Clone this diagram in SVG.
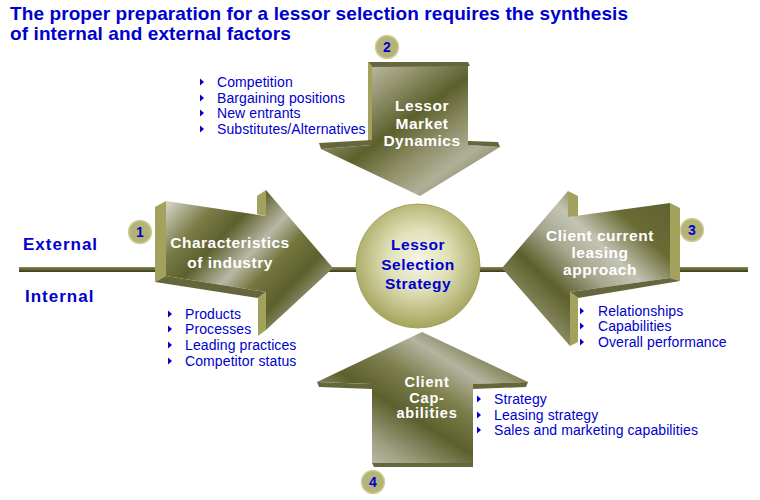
<svg xmlns="http://www.w3.org/2000/svg" xmlns:xlink="http://www.w3.org/1999/xlink" width="760" height="500" viewBox="0 0 760 500">
<defs>
<style>
.title{font-family:"Liberation Sans",Arial,sans-serif;font-weight:bold;font-size:19px;fill:#0000cc;letter-spacing:0.1px}
.side{font-family:"Liberation Sans",Arial,sans-serif;font-weight:bold;font-size:17px;fill:#0000cc;letter-spacing:1px}
.al{font-family:"Liberation Sans",Arial,sans-serif;font-weight:bold;font-size:15.5px;fill:#ffffff;text-anchor:middle;letter-spacing:0.5px}
.al2{font-family:"Liberation Sans",Arial,sans-serif;font-weight:bold;font-size:14.5px;fill:#ffffff;text-anchor:middle;letter-spacing:0.8px}
.ctr{font-family:"Liberation Sans",Arial,sans-serif;font-weight:bold;font-size:15.5px;fill:#0000cc;text-anchor:middle;letter-spacing:0.5px}
.bl{font-family:"Liberation Sans",Arial,sans-serif;font-size:14px;fill:#0000cc;letter-spacing:0.1px}
.num{font-family:"Liberation Sans",Arial,sans-serif;font-weight:bold;font-size:14px;fill:#0000cc;text-anchor:middle}
.nc{fill:#b4b478;stroke:#cfcf9c;stroke-width:1.5}
.lt{fill:#a2a25c}
.dk{fill:#66663c}
</style>
<linearGradient id="g1" x1="0" y1="0.1" x2="1" y2="0.9">
<stop offset="0" stop-color="#d4d4c6"/>
<stop offset="0.18" stop-color="#7c7e4a"/>
<stop offset="0.32" stop-color="#5c602c"/>
<stop offset="0.48" stop-color="#b8b8a6"/>
<stop offset="0.6" stop-color="#74763e"/>
<stop offset="0.74" stop-color="#5c602c"/>
<stop offset="0.9" stop-color="#a6a68c"/>
<stop offset="1" stop-color="#6c6e3a"/>
</linearGradient>
<linearGradient id="g2" x1="0" y1="0" x2="1" y2="1">
<stop offset="0" stop-color="#dcdcd0"/>
<stop offset="0.25" stop-color="#9a9a78"/>
<stop offset="0.45" stop-color="#5c602c"/>
<stop offset="0.6" stop-color="#8c8c64"/>
<stop offset="0.75" stop-color="#b0b098"/>
<stop offset="1" stop-color="#5c602c"/>
</linearGradient>
<linearGradient id="g3" x1="0" y1="1" x2="1" y2="0">
<stop offset="0" stop-color="#d8d8ca"/>
<stop offset="0.2" stop-color="#8a8a62"/>
<stop offset="0.35" stop-color="#5c602c"/>
<stop offset="0.5" stop-color="#a8a890"/>
<stop offset="0.62" stop-color="#c4c4b4"/>
<stop offset="0.78" stop-color="#6a6c36"/>
<stop offset="1" stop-color="#5c602c"/>
</linearGradient>
<linearGradient id="g4" x1="0" y1="1" x2="1" y2="0">
<stop offset="0" stop-color="#dadacc"/>
<stop offset="0.22" stop-color="#a0a084"/>
<stop offset="0.4" stop-color="#5c602c"/>
<stop offset="0.55" stop-color="#7c7e4c"/>
<stop offset="0.7" stop-color="#b4b4a0"/>
<stop offset="0.85" stop-color="#6e703a"/>
<stop offset="1" stop-color="#8a8a64"/>
</linearGradient>
<radialGradient id="gc" cx="0.5" cy="0.45" r="0.55">
<stop offset="0" stop-color="#f6f6e6"/>
<stop offset="0.45" stop-color="#e0e0b8"/>
<stop offset="1" stop-color="#a4a45c"/>
</radialGradient>
<linearGradient id="gl" x1="0" y1="0" x2="0" y2="1">
<stop offset="0" stop-color="#8a8a50"/>
<stop offset="1" stop-color="#3a3a1a"/>
</linearGradient>
<path id="tri" d="M0,-3.5 L4,0 L0,3.5 Z" fill="#0000cc"/>
</defs>
<rect width="760" height="500" fill="#ffffff"/>

<g id="title">
<text class="title" x="10" y="20">The proper preparation for a lessor selection requires the synthesis</text>
<text class="title" x="10" y="40">of internal and external factors</text>
</g>

<g id="connectors">
<rect x="19" y="267" width="729" height="5" fill="url(#gl)"/>
</g>

<g id="side-labels">
<text class="side" x="23" y="250">External</text>
<text class="side" x="25" y="302">Internal</text>
</g>

<g id="arrow-industry">
<polygon points="166,201 266,216 266,190 333,268 266,330 266,292 166,276" fill="url(#g1)"/>
<polygon class="lt" points="155,207 166,201 166,276 155,282"/>
<polygon class="lt" points="257,196 266,190 266,216 257,214"/>
<polygon class="dk" points="155,282 166,276 266,292 258,298"/>
<polygon class="lt" points="258,298 266,292 266,330 258,336"/>
<text class="al" x="230" y="248">Characteristics</text>
<text class="al" x="230" y="268">of industry</text>
</g>

<g id="arrow-market">
<polygon points="372,66 468,66 468,145 500,147 420,196 321,149 372,145" fill="url(#g2)"/>
<polygon class="dk" points="368,62 468,62 470,66 372,67"/>
<polygon class="lt" points="368,62 372,66 372,141 368,141"/>
<polygon class="dk" points="319,143 372,140 372,145 321,149"/>
<polygon class="dk" points="468,141 498,142 500,147 468,145"/>
<text class="al" x="422" y="111">Lessor</text>
<text class="al" x="422" y="129">Market</text>
<text class="al" x="422" y="146">Dynamics</text>
</g>

<g id="arrow-client-approach">
<polygon points="502,268 568,191 568,217 670,203 670,278 570,292 570,346" fill="url(#g3)"/>
<polygon class="lt" points="568,191 578,196 578,216 568,217"/>
<polygon class="lt" points="670,203 680,208 680,281 670,278"/>
<polygon class="dk" points="570,292 670,278 680,281 578,298"/>
<polygon class="lt" points="570,292 578,298 578,342 570,346"/>
<text class="al" x="600" y="241">Client current</text>
<text class="al" x="600" y="258">leasing</text>
<text class="al" x="600" y="275">approach</text>
</g>

<g id="arrow-capabilities">
<polygon points="422,332 528,382 473,384 473,463 372,463 372,384 317,382" fill="url(#g4)"/>
<polygon class="dk" points="317,382 372,384 372,389 319,387"/>
<polygon class="dk" points="473,384 528,382 526,387 473,389"/>
<polygon class="dk" points="372,463 473,463 473,467 374,467"/>
<text class="al2" x="427" y="387">Client</text>
<text class="al2" x="427" y="402.5">Cap-</text>
<text class="al2" x="427" y="418">abilities</text>
</g>

<g id="center-strategy">
<circle cx="418" cy="266" r="62" fill="url(#gc)" stroke="#a4a45a" stroke-width="1"/>
<text class="ctr" x="418" y="250">Lessor</text>
<text class="ctr" x="418" y="270">Selection</text>
<text class="ctr" x="418" y="289">Strategy</text>
</g>

<g id="num-1"><circle class="nc" cx="140" cy="232" r="11.5"/><text class="num" x="140" y="237">1</text></g>
<g id="num-2"><circle class="nc" cx="387" cy="47" r="11.5"/><text class="num" x="387" y="52">2</text></g>
<g id="num-3"><circle class="nc" cx="692" cy="230" r="11.5"/><text class="num" x="692" y="235">3</text></g>
<g id="num-4"><circle class="nc" cx="373" cy="482" r="11.5"/><text class="num" x="373" y="487">4</text></g>

<g id="list-market">
<use xlink:href="#tri" x="200" y="82"/><text class="bl" x="217" y="87">Competition</text>
<use xlink:href="#tri" x="200" y="98"/><text class="bl" x="217" y="103">Bargaining positions</text>
<use xlink:href="#tri" x="200" y="113"/><text class="bl" x="217" y="118">New entrants</text>
<use xlink:href="#tri" x="200" y="129"/><text class="bl" x="217" y="134">Substitutes/Alternatives</text>
</g>

<g id="list-industry">
<use xlink:href="#tri" x="168" y="314"/><text class="bl" x="185" y="319">Products</text>
<use xlink:href="#tri" x="168" y="329"/><text class="bl" x="185" y="334">Processes</text>
<use xlink:href="#tri" x="168" y="345"/><text class="bl" x="185" y="350">Leading practices</text>
<use xlink:href="#tri" x="168" y="361"/><text class="bl" x="185" y="366">Competitor status</text>
</g>

<g id="list-approach">
<use xlink:href="#tri" x="580" y="311"/><text class="bl" x="598" y="316">Relationships</text>
<use xlink:href="#tri" x="580" y="326"/><text class="bl" x="598" y="331">Capabilities</text>
<use xlink:href="#tri" x="580" y="342"/><text class="bl" x="598" y="347">Overall performance</text>
</g>

<g id="list-capabilities">
<use xlink:href="#tri" x="477" y="399"/><text class="bl" x="494" y="404">Strategy</text>
<use xlink:href="#tri" x="477" y="415"/><text class="bl" x="494" y="420">Leasing strategy</text>
<use xlink:href="#tri" x="477" y="430"/><text class="bl" x="494" y="435">Sales and marketing capabilities</text>
</g>
</svg>
